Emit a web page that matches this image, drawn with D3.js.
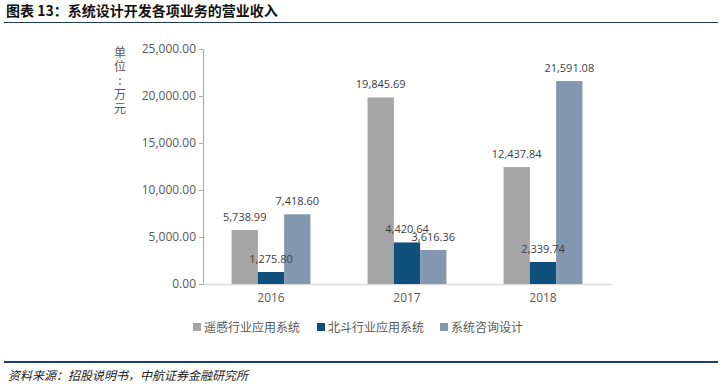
<!DOCTYPE html>
<html>
<head>
<meta charset="utf-8">
<script src="https://cdn.jsdelivr.net/npm/d3@7"></script>
<style>
  body { margin: 0; background: #fff; }
  svg { display: block; }
</style>
</head>
<body>
<div class="chart"></div>
<script>
const svgWidth = 724
const svgHeight = 389

// data
const years = ["2016", "2017", "2018"]
const seriesNames = ["遥感行业应用系统", "北斗行业应用系统", "系统咨询设计"]
const remoteSensing = [5738.99, 19845.69, 12437.84]
const beidou = [1275.80, 4420.64, 2339.74]
const consulting = [7418.60, 3616.36, 21591.08]
const yTicks = [0, 5000, 10000, 15000, 20000, 25000]
const colors = ["#A5A5A5", "#0E4F7B", "#8497B0"]

const allSeries = [remoteSensing, beidou, consulting]

let margin = { top: 49, right: 113, bottom: 105, left: 203 }
let width = svgWidth - margin.left - margin.right
let height = svgHeight - margin.top - margin.bottom

let svg = d3.select(".chart")
  .append("svg")
  .attr("width", svgWidth)
  .attr("height", svgHeight)

// title + rules
svg.append("text")
  .attr("x", 6)
  .attr("y", 16)
  .attr("font-family", "'Noto Sans CJK SC', sans-serif")
  .attr("font-weight", "bold")
  .attr("font-size", 14)
  .attr("fill", "#111")
  .text("图表 13：系统设计开发各项业务的营业收入")

svg.append("line")
  .attr("x1", 4).attr("x2", 718)
  .attr("y1", 22.5).attr("y2", 22.5)
  .attr("stroke", "#1F3864").attr("stroke-width", 1)

svg.append("line")
  .attr("x1", 4).attr("x2", 718)
  .attr("y1", 362).attr("y2", 362)
  .attr("stroke", "#1F3A7A").attr("stroke-width", 2)

svg.append("text")
  .attr("x", 8)
  .attr("y", 380)
  .attr("font-family", "'Noto Sans CJK SC', sans-serif")
  .attr("font-style", "italic")
  .attr("font-size", 12)
  .attr("fill", "#222")
  .text("资料来源：招股说明书，中航证券金融研究所")

let chartGroup = svg.append("g")
  .attr("transform", `translate(${margin.left}, ${margin.top})`)

let x0 = d3.scaleBand()
  .domain(years)
  .range([0, width])
  .paddingInner(0.42)
  .paddingOuter(0.21)

let x1 = d3.scaleBand()
  .domain(d3.range(allSeries.length))
  .range([0, x0.bandwidth()])

let y = d3.scaleLinear()
  .domain([0, 25000])
  .range([height, 0])

// y axis
let leftAxis = d3.axisLeft(y)
  .tickValues(yTicks)
  .tickFormat(d3.format(",.2f"))
  .tickSize(4)
  .tickPadding(3)

let yAxis = chartGroup.append("g").call(leftAxis)
yAxis.select(".domain").attr("stroke", "#A6A6A6")
yAxis.selectAll(".tick line").attr("stroke", "#A6A6A6")
yAxis.selectAll("text")
  .attr("font-family", "'Open Sans', sans-serif")
  .attr("font-size", 12)
  .attr("fill", "#595959")

// x axis
let bottomAxis = d3.axisBottom(x0).tickSize(0).tickPadding(9)
let xAxis = chartGroup.append("g")
  .attr("transform", `translate(0, ${height})`)
  .call(bottomAxis)
xAxis.select(".domain").attr("stroke", "#D9D9D9").attr("stroke-width", 1.5)
xAxis.selectAll("text")
  .attr("font-family", "'Open Sans', sans-serif")
  .attr("font-size", 12)
  .attr("fill", "#595959")

// bars
let groups = chartGroup.selectAll(".year")
  .data(years)
  .enter()
  .append("g")
  .attr("transform", d => `translate(${x0(d)}, 0)`)

groups.each(function(yr, i) {
  let g = d3.select(this)
  allSeries.forEach((s, k) => {
    g.append("rect")
      .attr("x", x1(k))
      .attr("y", y(s[i]))
      .attr("width", x1.bandwidth())
      .attr("height", height - y(s[i]))
      .attr("fill", colors[k])
  })
  allSeries.forEach((s, k) => {
    g.append("text")
      .attr("x", x1(k) + x1.bandwidth() / 2)
      .attr("y", y(s[i]) - 9)
      .attr("text-anchor", "middle")
      .attr("font-family", "'Open Sans', sans-serif")
      .attr("font-size", 11)
      .attr("fill", "#404040")
      .text(d3.format(",.2f")(s[i]))
  })
})

// y label, vertical
let unitLabel = "单位：万元".split("")
svg.append("g").selectAll("text")
  .data(unitLabel)
  .enter()
  .append("text")
  .attr("x", 120)
  .attr("y", (d, i) => 57 + i * 14)
  .attr("text-anchor", "middle")
  .attr("font-family", "'Noto Sans CJK SC', sans-serif")
  .attr("font-size", 12)
  .attr("fill", "#595959")
  .text(d => d === "：" ? ":" : d)

// legend
let legendX = [193, 317, 440]
let legend = svg.append("g")
seriesNames.forEach((name, k) => {
  legend.append("rect")
    .attr("x", legendX[k])
    .attr("y", 323)
    .attr("width", 8)
    .attr("height", 8)
    .attr("fill", colors[k])
  legend.append("text")
    .attr("x", legendX[k] + 11)
    .attr("y", 332)
    .attr("font-family", "'Noto Sans CJK SC', sans-serif")
    .attr("font-size", 12)
    .attr("fill", "#595959")
    .text(name)
})
</script>
</body>
</html>
